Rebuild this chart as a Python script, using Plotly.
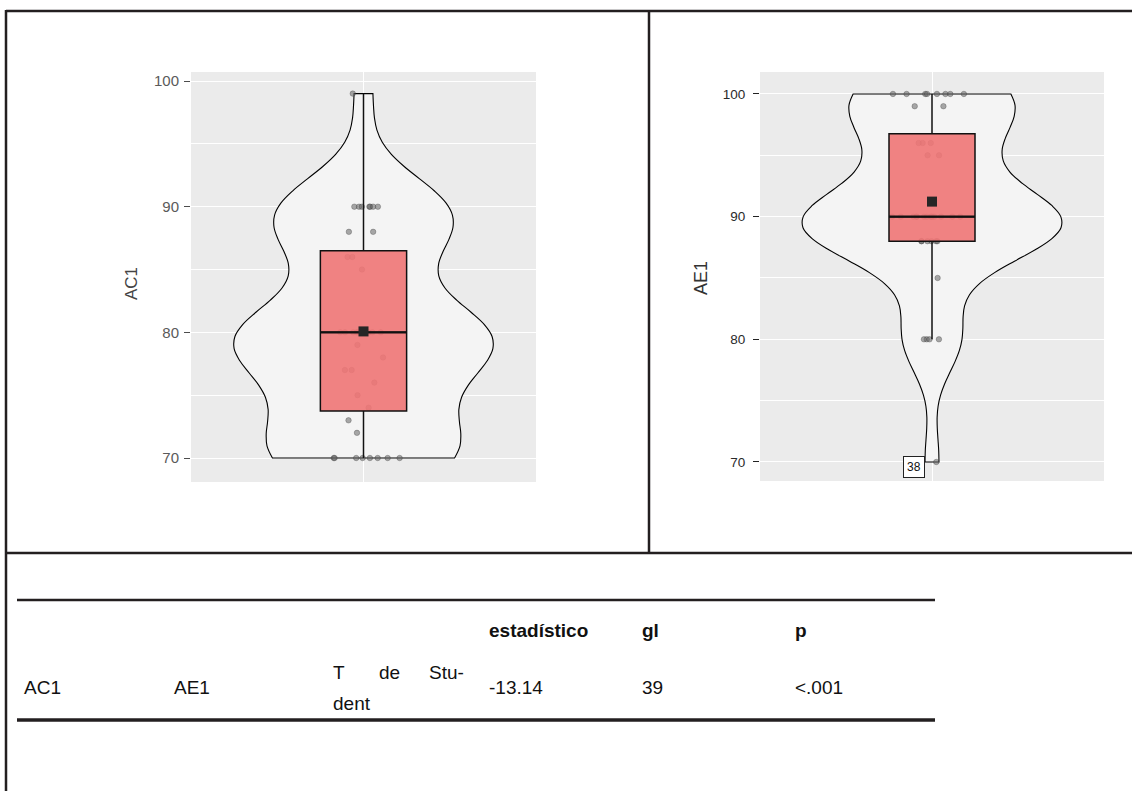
import numpy as np
import plotly.graph_objects as go

# ---------------- data ----------------
ac1 = [70]*8 + [72, 73, 74] + [75, 76, 77, 77, 78, 79] + [80]*10 + [85, 86, 86, 88, 88] + [90]*7 + [99]
ae1 = [70] + [80]*4 + [85] + [88]*6 + [90]*13 + [95, 95, 96, 96, 96, 99, 99] + [100]*8
outlier_label = "38"
outlier_value = 70

table_header = ["", "", "", "estadístico", "gl", "p"]
table_row = ["AC1", "AE1", "", "-13.14", "39", "<.001"]
test_name_line1 = ["T", "de", "Stu-"]
test_name_line2 = "dent"

W, H = 1132, 791
def px(x):
    return x / W
def py(y):
    return 1 - y / H

def box_stats(v):
    a = np.asarray(v, float)
    q1, med, q3 = np.percentile(a, [25, 50, 75])
    iqr = q3 - q1
    lo = a[a >= q1 - 1.5*iqr].min()
    hi = a[a <= q3 + 1.5*iqr].max()
    return q1, med, q3, lo, hi, a.mean()

def nrd0(v):
    a = np.asarray(v, float)
    q1, q3 = np.percentile(a, [25, 75])
    return 0.9 * min(a.std(ddof=1), (q3 - q1) / 1.34) * len(a) ** -0.2

fig = go.Figure()

BOXW = 0.3
panels = [
    dict(data=ac1, xa="x", ya="y", adjust=0.9),
    dict(data=ae1, xa="x2", ya="y2", adjust=1.0),
]

for p in panels:
    d = p["data"]
    q1, med, q3, lo, hi, mean = box_stats(d)
    fig.add_trace(go.Violin(
        y=d, x0=0, xaxis=p["xa"], yaxis=p["ya"],
        spanmode="hard", bandwidth=nrd0(d) * p["adjust"], scalemode="width", width=0.9,
        fillcolor="#F4F4F4", line=dict(color="black", width=1.1),
        points=False, box_visible=False, meanline_visible=False,
        showlegend=False, hoverinfo="skip"))
    # jittered points (drawn beneath the box)
    fig.add_trace(go.Box(
        y=d, x0=0, xaxis=p["xa"], yaxis=p["ya"], width=0.36,
        boxpoints="all", jitter=0.9, pointpos=0,
        fillcolor="rgba(0,0,0,0)", line=dict(color="rgba(0,0,0,0)", width=0),
        marker=dict(color="rgba(100,100,100,0.55)", size=5.5,
                    line=dict(color="rgba(50,50,50,0.5)", width=0.6)),
        showlegend=False, hoverinfo="skip"))
    fig.add_trace(go.Box(
        x=[0], q1=[q1], median=[med], q3=[q3], lowerfence=[lo], upperfence=[hi],
        xaxis=p["xa"], yaxis=p["ya"], width=BOXW, whiskerwidth=0,
        fillcolor="rgba(240,118,118,0.9)", line=dict(color="#111111", width=1.5),
        boxpoints=False, showlegend=False, hoverinfo="skip"))
    # thicker median bar
    fig.add_trace(go.Scatter(
        x=[-BOXW / 2, BOXW / 2], y=[med, med], xaxis=p["xa"], yaxis=p["ya"], mode="lines",
        line=dict(color="#111111", width=2.2), showlegend=False, hoverinfo="skip"))
    fig.add_trace(go.Scatter(
        x=[0], y=[mean], xaxis=p["xa"], yaxis=p["ya"], mode="markers",
        marker=dict(symbol="square", size=10, color="#262626"),
        showlegend=False, hoverinfo="skip"))

axis_common = dict(showline=False, zeroline=False)
xcommon = dict(range=[-0.6, 0.6], tickvals=[0], showticklabels=False, ticks="",
               showgrid=True, gridcolor="white", gridwidth=1.1, **axis_common)

fig.update_layout(
    width=W, height=H, margin=dict(l=0, r=0, t=0, b=0),
    paper_bgcolor="white", plot_bgcolor="#EBEBEB",
    boxmode="overlay", violinmode="overlay",
    font=dict(family="Liberation Sans, Arial, sans-serif"),
    xaxis=dict(domain=[px(191), px(536)], anchor="y", **xcommon),
    yaxis=dict(domain=[py(482), py(72)], anchor="x", range=[68.09, 100.72],
               tickvals=[70, 80, 90, 100], ticks="outside", ticklen=6, tickcolor="#4D4D4D",
               ticklabelstandoff=2,
               tickfont=dict(size=15, color="#5A5A5A"),
               showgrid=True, gridcolor="white", gridwidth=1.1,
               minor=dict(tickvals=[75, 85, 95], showgrid=True, gridcolor="white", gridwidth=0.6, ticks=""),
               **axis_common),
    xaxis2=dict(domain=[px(760), px(1104)], anchor="y2", **xcommon),
    yaxis2=dict(domain=[py(481), py(72)], anchor="x2", range=[68.45, 101.79],
                tickvals=[70, 80, 90, 100], ticks="outside", ticklen=6, tickcolor="#222222",
                ticklabelstandoff=5,
                tickfont=dict(size=13.5, color="#2A2A2A"),
                showgrid=True, gridcolor="white", gridwidth=1.1,
                minor=dict(tickvals=[75, 85, 95], showgrid=True, gridcolor="white", gridwidth=0.6, ticks=""),
                **axis_common),
)

annotations = [
    dict(text="AC1", x=px(131), y=py(284), xref="paper", yref="paper", textangle=-90,
         xanchor="center", yanchor="middle",
         showarrow=False, font=dict(size=17, color="#444444")),
    dict(text="AE1", x=px(701), y=py(278), xref="paper", yref="paper", textangle=-90,
         xanchor="center", yanchor="middle",
         showarrow=False, font=dict(size=18, color="#333333")),
    dict(text=outlier_label, x=0, y=outlier_value, xref="x2", yref="y2",
         xshift=-18, yshift=-5, showarrow=False, font=dict(size=12, color="#111111"),
         bgcolor="white", bordercolor="#222222", borderwidth=1, borderpad=3),
]

col_x = [22, 172, 331, 487, 640, 793]
for cx, t in zip(col_x, table_header):
    if t:
        annotations.append(dict(text=f"<b>{t}</b>", x=px(cx), y=py(630), xref="paper", yref="paper",
                                xanchor="left", yanchor="middle", showarrow=False,
                                font=dict(size=19, color="#111111")))
for cx, t in zip(col_x, table_row):
    if t:
        annotations.append(dict(text=t, x=px(cx), y=py(687), xref="paper", yref="paper",
                                xanchor="left", yanchor="middle", align="left", showarrow=False,
                                font=dict(size=19, color="#111111")))
# justified two-line cell "T de Stu- / dent"
for (xx, anc), word in zip([(331, "left"), (389, "center"), (466, "right")], test_name_line1):
    annotations.append(dict(text=word, x=px(xx), y=py(672), xref="paper", yref="paper",
                            xanchor=anc, yanchor="middle", showarrow=False,
                            font=dict(size=19, color="#111111")))
annotations.append(dict(text=test_name_line2, x=px(331), y=py(703), xref="paper", yref="paper",
                        xanchor="left", yanchor="middle", showarrow=False,
                        font=dict(size=19, color="#111111")))
fig.update_layout(annotations=annotations)

frame = "#231F20"
shapes = [
    dict(type="line", x0=px(6), x1=px(1140), y0=py(11), y1=py(11), line=dict(color=frame, width=2.5)),
    dict(type="line", x0=px(6), x1=px(6), y0=py(10), y1=py(800), line=dict(color=frame, width=2.5)),
    dict(type="line", x0=px(649), x1=px(649), y0=py(11), y1=py(553), line=dict(color=frame, width=2.5)),
    dict(type="line", x0=px(6), x1=px(1140), y0=py(553), y1=py(553), line=dict(color=frame, width=2.5)),
    dict(type="line", x0=px(17), x1=px(935), y0=py(600), y1=py(600), line=dict(color=frame, width=2.5)),
    dict(type="line", x0=px(17), x1=px(935), y0=py(720), y1=py(720), line=dict(color=frame, width=3.5)),
]
for s in shapes:
    s.update(xref="paper", yref="paper")
fig.update_layout(shapes=shapes)

fig.write_html("out.html", config={"displayModeBar": False},
               post_script="document.body.style.margin='0px';")
